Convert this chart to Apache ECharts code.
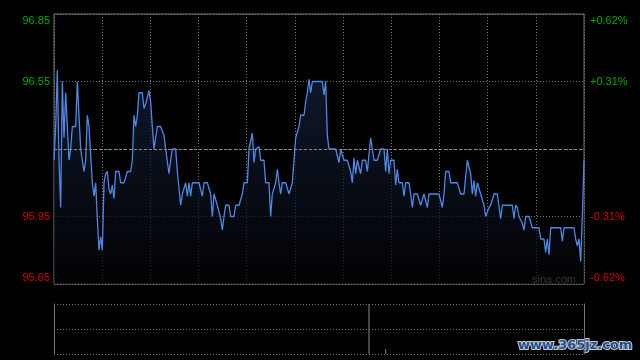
<!DOCTYPE html>
<html>
<head>
<meta charset="utf-8">
<script src="https://cdn.jsdelivr.net/npm/echarts@6/dist/echarts.min.js"></script>
<style>
html,body{margin:0;padding:0;background:#000;}
#c{width:640px;height:360px;}
</style>
</head>
<body>
<div id="c"></div>
<script>
// Price path, read left to right (four stretches of the session)
const pricesA = [96.20,96.35,96.60,96.20,95.99,96.55,96.30,96.50,96.35,96.20,
  96.25,96.35,96.35,96.35,96.55,96.55,96.25,96.20,96.15,96.20,
  96.40,96.35,96.35,96.10,96.04,96.10,95.94,95.80,95.86,95.80,
  96.10,96.14,96.15,96.07,96.05,96.09,96.03,96.15,96.15,96.15,
  96.10,96.10,96.10,96.10,96.15,96.15,96.15,96.20,96.40,96.35,
  96.40,96.50,96.50,96.50,96.43,96.45,96.45,96.51,96.46,96.35,
  96.25,96.25,96.35,96.35,96.35,96.35,96.31,96.25,96.25,96.14,
  96.20,96.25,96.25,96.25,96.15,96.15,96.00,96.05,96.05,96.10,
  96.04];
const pricesB = [96.10,96.04,96.10,96.10,96.10,96.10,96.10,96.10,96.04,96.10,
  96.10,96.10,96.10,96.05,95.95,96.05,96.05,96.00,96.00,95.94,
  95.89,95.95,96.00,96.00,96.00,95.95,95.95,95.95,96.00,96.00,
  96.00,96.00,96.05,96.10,96.10,96.10,96.25,96.25,96.32,96.19,
  96.25,96.25,96.26,96.20,96.20,96.20,96.10,96.10,96.10,95.95,
  96.05,96.05,96.10,96.16,96.10,96.05,96.10,96.10,96.10,96.10,
  96.05,96.05,96.10,96.10,96.30,96.30,96.35,96.40,96.40,96.40,
  96.46,96.50,96.56,96.50,96.55,96.55,96.55,96.55,96.55];
const pricesC = [96.55,96.55,96.49,96.55,96.31,96.25,96.25,96.25,96.25,96.25,
  96.25,96.19,96.25,96.25,96.20,96.20,96.20,96.20,96.15,96.10,
  96.21,96.14,96.20,96.20,96.14,96.20,96.20,96.20,96.15,96.15,
  96.30,96.30,96.20,96.20,96.20,96.20,96.25,96.25,96.25,96.15,
  96.25,96.14,96.20,96.20,96.20,96.09,96.16,96.10,96.10,96.10,
  96.04,96.10,96.10,96.10,96.05,95.99,96.05,96.05,96.05,96.05,
  96.00,96.00,96.05,96.05,95.99,96.05,96.05,96.05,96.05,96.05,
  96.05,96.05,96.05,95.99,96.05,96.15,96.15,96.15,96.10,96.10];
const pricesD = [96.10,96.10,96.10,96.10,96.05,96.05,96.05,96.05,96.20,96.20,
  96.14,96.05,96.11,96.04,96.10,96.10,96.05,96.05,96.00,95.95,
  95.95,95.99,96.00,96.00,96.05,96.05,96.05,96.05,95.94,96.00,
  96.00,96.00,96.00,96.00,96.00,96.00,95.94,96.00,95.99,95.95,
  95.95,95.92,95.89,95.95,95.95,95.95,95.95,95.90,95.90,95.90,
  95.90,95.90,95.85,95.85,95.85,95.79,95.85,95.78,95.90,95.90,
  95.90,95.90,95.90,95.90,95.90,95.84,95.90,95.90,95.90,95.90,
  95.90,95.90,95.90,95.85,95.82,95.85,95.75,95.95,96.20];

// Axis ticks and labels
const priceTicks = [95.65, 95.95, 96.25, 96.55, 96.85];
const priceLabels = ['95.65', '95.95', '', '96.55', '96.85'];
const pctLabels = ['-0.62%', '-0.31%', '', '+0.31%', '+0.62%'];
const prevClose = 96.25;

// Volume (only visible bars; index into the minute series)
const volIndex = [189, 199];
const volValue = [2.0, 0.2];

const prices = pricesA.concat(pricesB, pricesC, pricesD);
const N = prices.length;
const lineData = prices.map((v, i) => [i, v]);
const volData = volIndex.map((ix, k) => [ix, volValue[k]]);

function tickIdx(v) {
  for (let i = 0; i < priceTicks.length; i++) if (Math.abs(priceTicks[i] - v) < 0.001) return i;
  return -1;
}
function styleKey(i) {
  if (i === 0) return 'rb';
  if (i === priceTicks.length - 1) return 'gt';
  return priceTicks[i] < prevClose ? 'r' : 'g';
}
const FONT = '"Liberation Sans", Arial, sans-serif';
const GREEN = '#00aa00', RED = '#d40000';
const rich = {
  g: {color: GREEN, fontSize: 11, fontFamily: FONT},
  gt: {color: GREEN, fontSize: 11, fontFamily: FONT, padding: [13, 0, 0, 0]},
  r: {color: RED, fontSize: 11, fontFamily: FONT},
  rb: {color: RED, fontSize: 11, fontFamily: FONT, padding: [0, 0, 12, 0]}
};
function fmt(labels) {
  return function (v) {
    const i = tickIdx(v);
    if (i < 0 || !labels[i]) return '';
    return '{' + styleKey(i) + '|' + labels[i] + '}';
  };
}
const dotted = {color: '#777', width: 1, type: [1, 2]};

const chart = echarts.init(document.getElementById('c'), null, {renderer: 'canvas'});
chart.setOption({
  backgroundColor: '#000',
  animation: false,
  grid: [
    {left: 54, top: 14, width: 530, height: 270, show: true, borderColor: '#777', borderWidth: 1, backgroundColor: 'transparent'},
    {left: 54, top: 304, width: 530, height: 50}
  ],
  xAxis: [
    {type: 'value', gridIndex: 0, min: 0, max: N - 1, interval: (N - 1) / 11,
      axisLine: {show: false}, axisTick: {show: false}, axisLabel: {show: false},
      splitLine: {show: true, lineStyle: dotted}},
    {type: 'value', gridIndex: 1, min: 0, max: N - 1,
      axisLine: {show: false}, axisTick: {show: false}, axisLabel: {show: false},
      splitLine: {show: false}}
  ],
  yAxis: [
    {type: 'value', gridIndex: 0, position: 'left', min: 95.65, max: 96.85, interval: 0.3,
      axisLine: {show: false}, axisTick: {show: false},
      axisLabel: {show: true, margin: 4, formatter: fmt(priceLabels), rich: rich, showMinLabel: true, showMaxLabel: true},
      splitLine: {show: true, lineStyle: dotted}},
    {type: 'value', gridIndex: 0, position: 'right', min: 95.65, max: 96.85, interval: 0.3,
      axisLine: {show: false}, axisTick: {show: false},
      axisLabel: {show: true, margin: 6, formatter: fmt(pctLabels), rich: rich, showMinLabel: true, showMaxLabel: true},
      splitLine: {show: false}},
    {type: 'value', gridIndex: 1, position: 'left', min: 0, max: 2, interval: 1,
      axisLine: {show: true, lineStyle: {color: '#777', width: 1}}, axisTick: {show: false},
      axisLabel: {show: false}, splitLine: {show: true, lineStyle: dotted}},
    {type: 'value', gridIndex: 1, position: 'right', min: 0, max: 2, interval: 1,
      axisLine: {show: true, lineStyle: {color: '#777', width: 1}}, axisTick: {show: false},
      axisLabel: {show: false}, splitLine: {show: false}}
  ],
  series: [
    {type: 'line', xAxisIndex: 0, yAxisIndex: 0, data: lineData, showSymbol: false, symbol: 'none',
      lineStyle: {color: '#4d88e6', width: 1.3},
      areaStyle: {origin: 'start', color: new echarts.graphic.LinearGradient(0, 0, 0, 1, [
        {offset: 0, color: '#15233d'}, {offset: 1, color: '#020305'}])},
      markLine: {silent: true, symbol: 'none', label: {show: false},
        lineStyle: {color: '#8a8a8a', width: 1, type: [3, 2]},
        data: [{yAxis: prevClose}]}
    },
    {type: 'bar', xAxisIndex: 1, yAxisIndex: 2, data: volData, barWidth: 1,
      itemStyle: {color: '#888'}}
  ],
  graphic: [
    {type: 'text', left: 532, top: 274, style: {text: 'sina.com', fill: '#a0a0a0', font: '11px "Liberation Sans", Arial, sans-serif'}},
    {type: 'text', left: 517, top: 338, style: {text: 'www.365jz.com', fill: '#1d4f94', stroke: '#c8c8c8', lineWidth: 2, font: 'bold 13px "DejaVu Sans", sans-serif'}}
  ]
});
</script>
</body>
</html>
